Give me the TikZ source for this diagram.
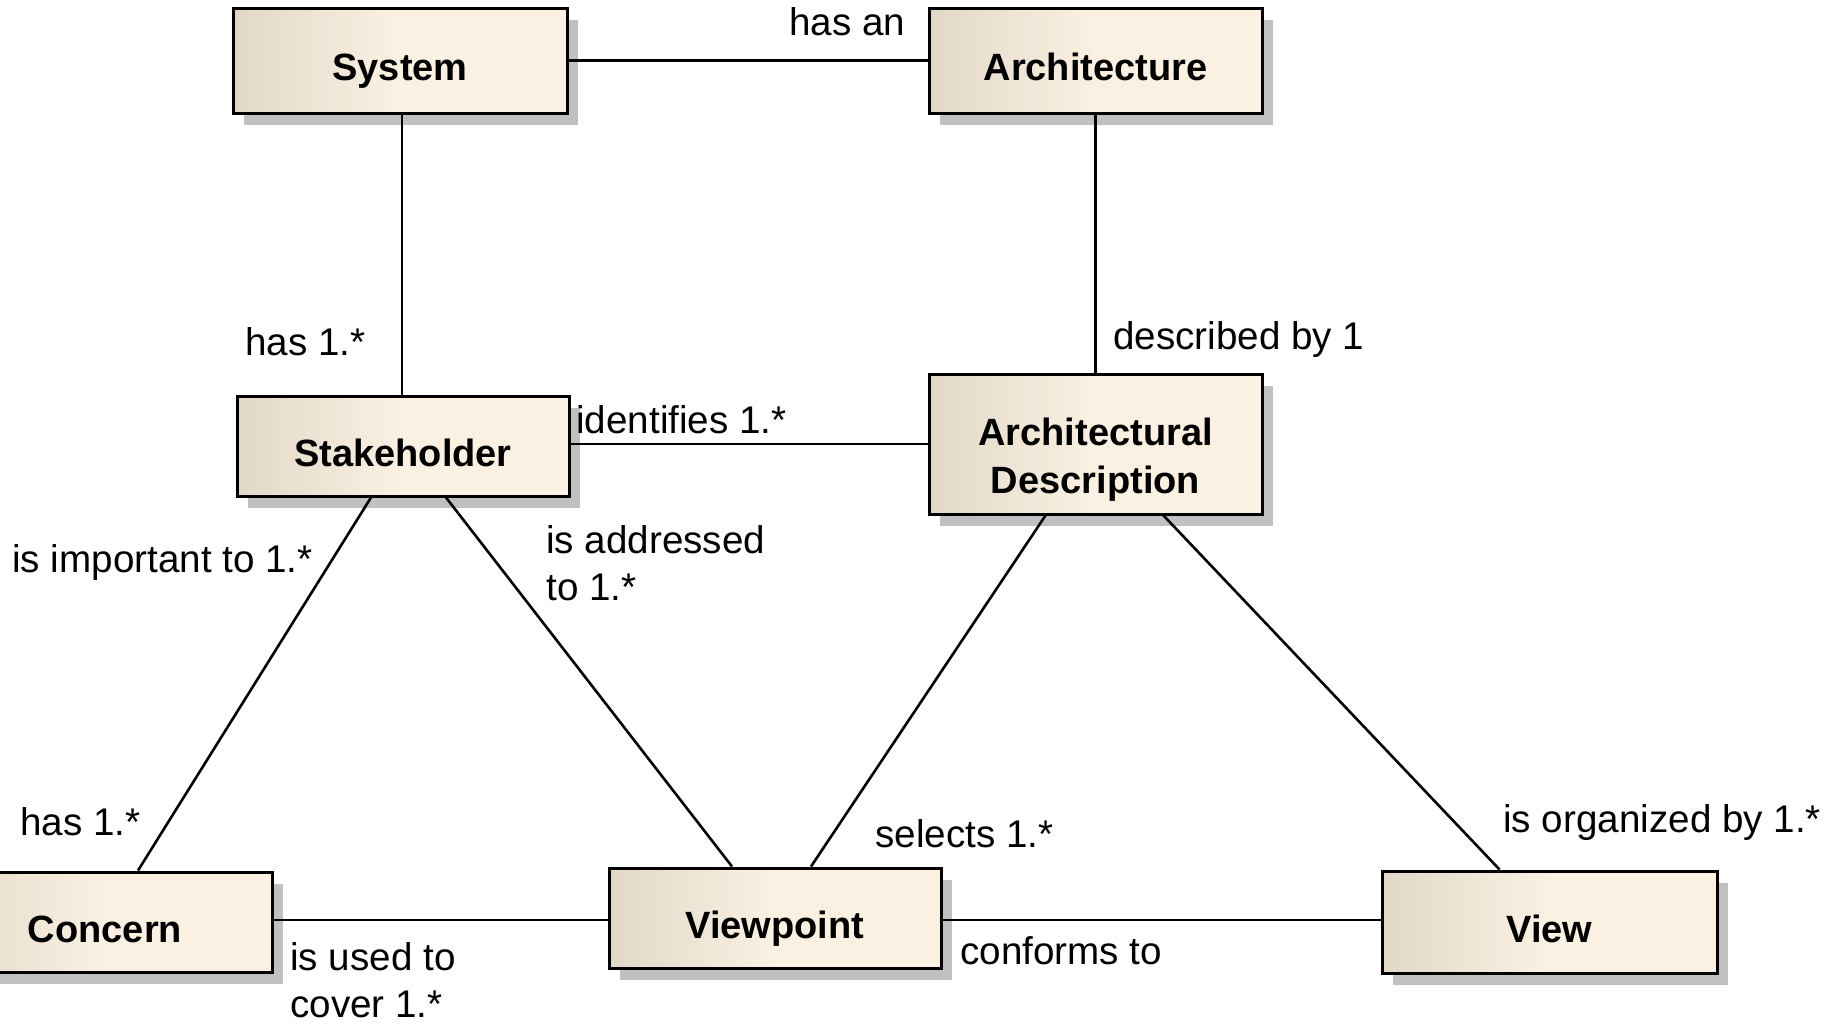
\documentclass[tikz,border=0pt]{standalone}
\usepackage{fontspec}
\setmainfont{Liberation Sans}
\usetikzlibrary{shadows,calc}
\definecolor{boxL}{RGB}{226,216,200}
\definecolor{boxR}{RGB}{251,241,226}
\definecolor{shad}{RGB}{192,192,192}
\tikzset{
 cls/.style={draw=black, line width=1.5pt, rectangle, inner sep=0pt,
   left color=boxL, right color=boxR, middle color=boxR,
   drop shadow={shadow xshift=5.5pt, shadow yshift=-6pt, fill=shad, opacity=1},
   font=\bfseries\fontsize{19}{24}\selectfont, align=center,
   text height=20.1pt, text depth=0pt},
 lbl/.style={inner sep=0pt, anchor=west, font=\fontsize{19.3}{23.5}\selectfont, align=left},
 conn/.style={line width=1.3pt}
}
\begin{document}
\begin{tikzpicture}[x=0.5pt,y=-0.5pt]
\useasboundingbox[fill=white] (0,0) rectangle (1831,1023);
% classes
\node[cls, minimum width=167pt, minimum height=52.5pt] (sys) at (400,60.5) {System};
\node[cls, minimum width=166.5pt, minimum height=52.5pt] (arch) at (1095.5,60.5) {Architecture};
\node[cls, minimum width=166pt, minimum height=50pt] (st) at (403,446) {Stakeholder};
\node[cls, minimum width=166.5pt, minimum height=70pt, text height=49.6pt, text depth=0pt] (ad) at (1095.5,444) {Architectural\\Description};
\node[cls, minimum width=167pt, minimum height=50pt] (cc) at (105,922) {Concern};
\node[cls, minimum width=166pt, minimum height=50pt] (vp) at (775,918) {Viewpoint};
\node[cls, minimum width=167.5pt, minimum height=51pt] (vw) at (1549.5,922) {View};
% connectors
\draw[conn] (sys.east) -- (arch.west);
\draw[conn] ([xshift=1pt]sys.south) -- ([xshift=1pt]sys.south |- st.north);
\draw[conn] (arch.south) -- (ad.north);
\draw[conn] ([yshift=1pt]st.east) -- ([yshift=1pt]st.east -| ad.west);
\draw[conn] ([xshift=-16pt]st.south) -- ([xshift=16.5pt]cc.north);
\draw[conn] ([xshift=21.5pt]st.south) -- ([xshift=-21.5pt]vp.north);
\draw[conn] ([xshift=-25pt]ad.south) -- ([xshift=18pt]vp.north);
\draw[conn] ([xshift=34pt]ad.south) -- ([xshift=-25pt]vw.north);
\draw[conn] ([yshift=-1pt]vp.west -| cc.east) -- ([yshift=-1pt]vp.west);
\draw[conn] ([yshift=-1pt]vp.east) -- ([yshift=-1pt]vp.east -| vw.west);
% labels
\node[lbl] (l1) at (789,22) {has an};
\node[lbl] (l2) at (245,342) {has 1.*};
\node[lbl] (l3) at (1113,339.5) {described by 1};
\node[lbl] (l4) at (576,420) {identifies 1.*};
\node[lbl] (l5) at (12,562.5) {is important to 1.*};
\node[lbl] (l6) at (546,563) {is addressed\\to 1.*};
\node[lbl] (l7) at (20,822) {has 1.*};
\node[lbl] (l8) at (875,834) {selects 1.*};
\node[lbl] (l9) at (1503,822.5) {is organized by 1.*};
\node[lbl] (l10) at (290,980.5) {is used to\\cover 1.*};
\node[lbl] (l11) at (960,951) {conforms to};
\end{tikzpicture}
\end{document}
